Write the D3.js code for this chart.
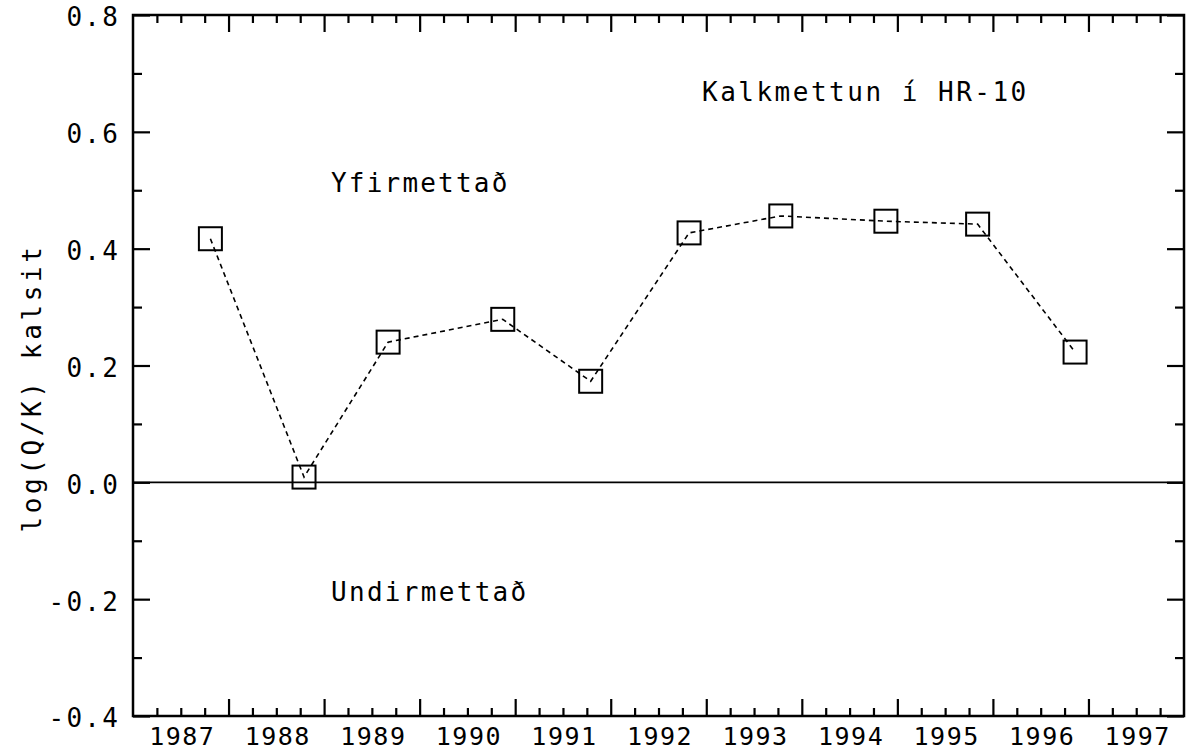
<!DOCTYPE html>
<html><head><meta charset="utf-8">
<script src="https://cdn.jsdelivr.net/npm/d3@7"></script>
<style>
html,body{margin:0;padding:0;background:#fff;}
svg text{font-family:"DejaVu Sans Mono",monospace;fill:#000;}
</style></head>
<body><svg id="c" width="1186" height="753"></svg>
<script>
// sample dates (decimal years) and log(Q/K) calcite values
const dates = [1987.81, 1988.79, 1989.67, 1990.87, 1991.79, 1992.82, 1993.78, 1994.88, 1995.84, 1996.86];
const logQK = [0.417, 0.009, 0.240, 0.279, 0.173, 0.427, 0.456, 0.447, 0.442, 0.223];
const yearLabels = [1987, 1988, 1989, 1990, 1991, 1992, 1993, 1994, 1995, 1996, 1997];
const yTicks = [-0.4, -0.2, 0.0, 0.2, 0.4, 0.6, 0.8];
const yMinorTicks = [-0.3, -0.1, 0.1, 0.3, 0.5, 0.7];
const title = "Kalkmettun í HR-10";
const yTitle = "log(Q/K) kalsit";
const zoneAbove = "Yfirmettað";
const zoneBelow = "Undirmettað";

const L = 133, R = 1184, T = 15, B = 716;
const svg = d3.select("#c");
const x = d3.scaleLinear().domain([1987, 1998]).range([L, R]);
const y = d3.scaleLinear().domain([-0.4, 0.8]).range([B, T]);

const majorYears = d3.range(1988, 1998);
const minorX = [];
for (let yr = 1987; yr < 1998; yr++) for (const q of [0.25, 0.5, 0.75]) minorX.push(yr + q);

function styleAxis(g) {
  g.select(".domain").remove();
  g.selectAll(".tick line").attr("stroke", "#000").attr("stroke-width", 2.2);
}
// bottom
svg.append("g").attr("transform", `translate(0,${B})`)
  .call(d3.axisBottom(x).tickValues(majorYears).tickSize(-17).tickFormat("")).call(styleAxis);
svg.append("g").attr("transform", `translate(0,${B})`)
  .call(d3.axisBottom(x).tickValues(minorX).tickSize(-8).tickFormat("")).call(styleAxis);
// top
svg.append("g").attr("transform", `translate(0,${T})`)
  .call(d3.axisTop(x).tickValues(majorYears).tickSize(-17).tickFormat("")).call(styleAxis);
svg.append("g").attr("transform", `translate(0,${T})`)
  .call(d3.axisTop(x).tickValues(minorX).tickSize(-8).tickFormat("")).call(styleAxis);
// left
svg.append("g").attr("transform", `translate(${L},0)`)
  .call(d3.axisLeft(y).tickValues(yTicks).tickSize(-17).tickFormat("")).call(styleAxis);
svg.append("g").attr("transform", `translate(${L},0)`)
  .call(d3.axisLeft(y).tickValues(yMinorTicks).tickSize(-9).tickFormat("")).call(styleAxis);
// right
svg.append("g").attr("transform", `translate(${R},0)`)
  .call(d3.axisRight(y).tickValues(yTicks).tickSize(-17).tickFormat("")).call(styleAxis);
svg.append("g").attr("transform", `translate(${R},0)`)
  .call(d3.axisRight(y).tickValues(yMinorTicks).tickSize(-9).tickFormat("")).call(styleAxis);

// x labels at mid-year
const xl = svg.append("g").attr("transform", `translate(0,${B})`)
  .call(d3.axisBottom(x).tickValues(yearLabels.map(d => d + 0.5)).tickSize(0).tickPadding(11)
    .tickFormat(d => String(Math.floor(d))));
xl.select(".domain").remove();
xl.selectAll("text").attr("font-size", 25).attr("letter-spacing", 1.5).attr("dx", 1)
  .attr("font-family", "DejaVu Sans Mono");

// y labels
const yl = svg.append("g").attr("transform", `translate(${L},0)`)
  .call(d3.axisLeft(y).tickValues(yTicks).tickSize(0).tickPadding(13)
    .tickFormat(d => d3.format(".1f")(d).replace("−", "-")));
yl.select(".domain").remove();
yl.selectAll("text").attr("font-size", 26).attr("letter-spacing", 2.2).attr("dy", "0.42em")
  .attr("font-family", "DejaVu Sans Mono");

// frame
svg.append("rect").attr("x", L).attr("y", T).attr("width", R - L).attr("height", B - T)
  .attr("fill", "none").attr("stroke", "#000").attr("stroke-width", 2.5);

// zero line
svg.append("line").attr("x1", L).attr("x2", R).attr("y1", y(0)).attr("y2", y(0))
  .attr("stroke", "#000").attr("stroke-width", 1.8);

// data line
const pts = dates.map((d, i) => [d, logQK[i]]);
svg.append("path").datum(pts)
  .attr("d", d3.line().x(d => x(d[0])).y(d => y(d[1])))
  .attr("fill", "none").attr("stroke", "#000").attr("stroke-width", 1.6)
  .attr("stroke-dasharray", "5,4");
svg.append("g").selectAll("rect").data(pts).join("rect")
  .attr("x", d => x(d[0]) - 11.5).attr("y", d => y(d[1]) - 11.5)
  .attr("width", 23).attr("height", 23)
  .attr("fill", "none").attr("stroke", "#000").attr("stroke-width", 2);

// texts
const txt = (s, px, py, size, ls) => svg.append("text").text(s).attr("x", px).attr("y", py)
  .attr("font-size", size).attr("letter-spacing", ls);
txt(title, 702, 101, 26, 2.5);
txt(zoneAbove, 331, 192, 26, 2.2);
txt(zoneBelow, 331, 601, 26, 2.3);

svg.append("text").text(yTitle)
  .attr("transform", `translate(41,388) rotate(-90)`)
  .attr("text-anchor", "middle").attr("font-size", 26).attr("letter-spacing", 3.6);
</script></body></html>
